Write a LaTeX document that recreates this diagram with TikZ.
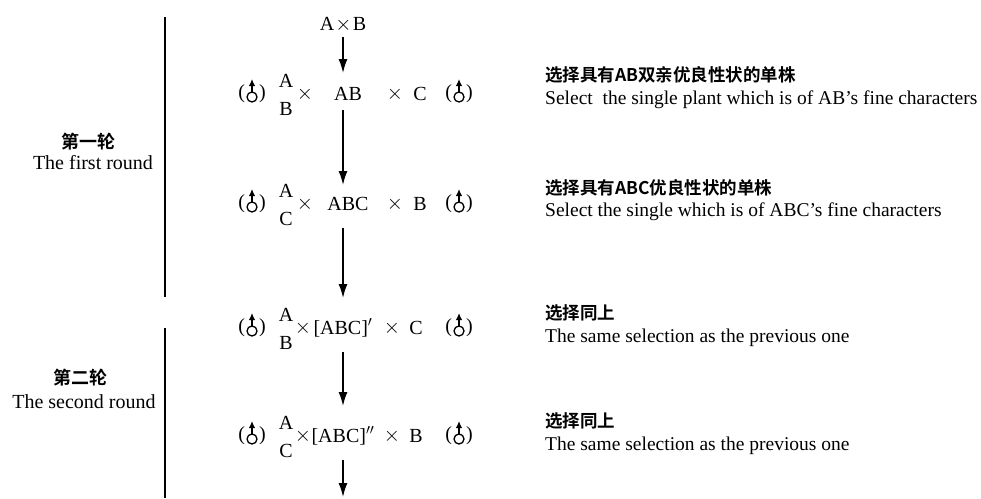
\documentclass[tikz,border=0pt]{standalone}
\usepackage{fontspec}
\setmainfont{Liberation Serif}
\newfontfamily\cjk{Noto Sans CJK SC}[BoldFont={* Bold}]
\usetikzlibrary{arrows.meta}
\tikzset{
  txt/.style={inner sep=1pt, font=\fontsize{20}{23}\selectfont},
  cn/.style={inner sep=0pt, anchor=west, font=\cjk\bfseries\fontsize{17.5}{20}\selectfont},
  en/.style={inner sep=0pt, anchor=west, font=\fontsize{19.5}{22}\selectfont},
  lab/.style={inner sep=0pt, font=\fontsize{20}{23}\selectfont},
  labcn/.style={inner sep=0pt, font=\cjk\bfseries\fontsize{18}{20}\selectfont},
  flow/.style={line width=1.5pt, -{Latex[length=14pt,width=9pt]}},
  brace/.style={line width=1.4pt},
  male/.pic={
    \draw[line width=1.3pt] (0,3) circle (5);
    \draw[line width=1.5pt,-{Latex[length=7pt,width=6.5pt]}] (0,-2) -- (0,-15);
  }
}
\newcommand{\sexnode}[2]{%
  \node[txt] (#1) at (#2) {(\hspace{14pt})};
  \pic at (#1.center) {male};
}
\begin{document}
\begin{tikzpicture}[x=1pt,y=-1pt]
\useasboundingbox (0,0) rectangle (981,498);

% round brackets on the left
\draw[brace] (165,17) -- (165,297);
\draw[brace] (165,328) -- (165,498);
\node[labcn] (r1c) at (88,142) {第一轮};
\node[lab] (r1e) at (93,163) {The first round};
\node[labcn] (r2c) at (80,378) {第二轮};
\node[lab] (r2e) at (84,402) {The second round};

% starting cross
\node[txt] (p0) at (343,25) {A$\mskip1mu\times\mskip1mu$B};

% row 1
\sexnode{s1l}{252,94}
\node[txt] (a1) at (286,81) {A};
\node[txt] (b1) at (286,109) {B};
\node[txt] (x1) at (305,94) {$\times$};
\node[txt] (m1) at (348,94) {AB};
\node[txt] (y1) at (395,94) {$\times$};
\node[txt] (c1) at (420,94) {C};
\sexnode{s1r}{459,94}

% row 2
\sexnode{s2l}{252,204}
\node[txt] (a2) at (286,191) {A};
\node[txt] (b2) at (286,219) {C};
\node[txt] (x2) at (305,204) {$\times$};
\node[txt] (m2) at (348,204) {ABC};
\node[txt] (y2) at (395,204) {$\times$};
\node[txt] (c2) at (420,204) {B};
\sexnode{s2r}{459,204}

% row 3
\sexnode{s3l}{252,328}
\node[txt] (a3) at (286,315) {A};
\node[txt] (b3) at (286,343) {B};
\node[txt] (x3) at (303,328) {$\times$};
\node[txt] (m3) at (343,328) {[ABC]$'$};
\node[txt] (y3) at (392,328) {$\times$};
\node[txt] (c3) at (416,328) {C};
\sexnode{s3r}{459,328}

% row 4
\sexnode{s4l}{252,436}
\node[txt] (a4) at (286,423) {A};
\node[txt] (b4) at (286,451) {C};
\node[txt] (x4) at (303,436) {$\times$};
\node[txt] (m4) at (343,436) {[ABC]$''$};
\node[txt] (y4) at (392,436) {$\times$};
\node[txt] (c4) at (416,436) {B};
\sexnode{s4r}{459,436}

% flow arrows
\coordinate (o0) at (343,37);  \coordinate (i1) at (343,73);
\coordinate (o1) at (343,110); \coordinate (i2) at (343,185);
\coordinate (o2) at (343,228); \coordinate (i3) at (343,298);
\coordinate (o3) at (343,352); \coordinate (i4) at (343,406);
\coordinate (o4) at (343,460); \coordinate (end) at (343,497);
\draw[flow] (o0) -- (i1);
\draw[flow] (o1) -- (i2);
\draw[flow] (o2) -- (i3);
\draw[flow] (o3) -- (i4);
\draw[flow] (o4) -- (end);

% selection notes
\node[cn] (t1) at (545,75) {选择具有AB双亲优良性状的单株};
\node[en] (e1) at (545,100) {Select\ \ the single plant which is of AB's fine characters};
\node[cn] (t2) at (545,188) {选择具有ABC优良性状的单株};
\node[en] (e2) at (545,212) {Select the single which is of ABC's fine characters};
\node[cn] (t3) at (545,313) {选择同上};
\node[en] (e3) at (545,338) {The same selection as the previous one};
\node[cn] (t4) at (545,421) {选择同上};
\node[en] (e4) at (545,446) {The same selection as the previous one};
\end{tikzpicture}
\end{document}
